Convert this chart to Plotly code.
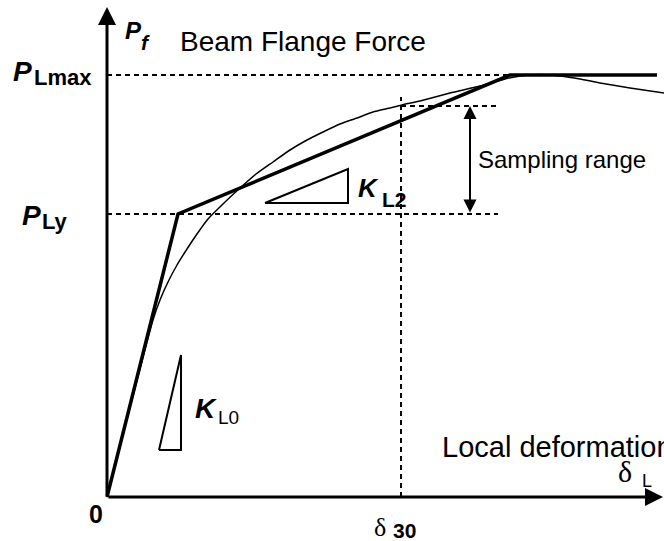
import plotly.graph_objects as go

# ---- data (deformation, force) in drawing units; origin at (0,0) ----
bilinear_x = [0, 71, 403, 550]
bilinear_y = [0, 283, 422, 422]

curve_x = [0, 46, 53, 61, 70, 80, 90, 101, 117, 133, 149, 166, 183, 200, 216, 233, 250, 266, 283, 295,
           313, 343, 373, 398, 413, 433, 453, 473, 493, 523, 557]
curve_y = [0, 177, 197, 215, 232, 248, 263, 278, 294, 309, 323, 335, 347, 357, 365, 373, 379, 385, 389, 392,
           396, 404, 411, 418, 421, 422.5, 421, 418, 414, 409, 404]

P_Lmax = 422
P_Ly = 283
delta_30 = 294
P_30 = 391

kl0_x = [52, 74, 74, 52]
kl0_y = [47, 47, 142, 47]
kl2_x = [158, 241, 241, 158]
kl2_y = [294, 328, 294, 294]

XMIN, XMAX = -107, 557
YMIN, YMAX = -44, 497

fig = go.Figure()

dash = "5px,4px"
# dashed reference lines
fig.add_trace(go.Scatter(x=[0, 401], y=[P_Lmax, P_Lmax], mode="lines",
                         line=dict(color="black", width=2, dash=dash)))
fig.add_trace(go.Scatter(x=[0, 391], y=[P_Ly, P_Ly], mode="lines",
                         line=dict(color="black", width=2, dash=dash)))
fig.add_trace(go.Scatter(x=[delta_30, 393], y=[P_30, P_30], mode="lines",
                         line=dict(color="black", width=2, dash=dash)))
fig.add_trace(go.Scatter(x=[delta_30, delta_30], y=[0, 400], mode="lines",
                         line=dict(color="black", width=2, dash=dash)))

# curve (thin)
fig.add_trace(go.Scatter(x=curve_x, y=curve_y, mode="lines",
                         line=dict(color="black", width=1.5, shape="spline", smoothing=0.5)))
# bilinear (thick)
fig.add_trace(go.Scatter(x=bilinear_x, y=bilinear_y, mode="lines",
                         line=dict(color="black", width=3.5)))
# triangles
fig.add_trace(go.Scatter(x=kl0_x, y=kl0_y, mode="lines", line=dict(color="black", width=2)))
fig.add_trace(go.Scatter(x=kl2_x, y=kl2_y, mode="lines", line=dict(color="black", width=2)))

ann = []
# axes as arrows
ann.append(dict(x=0, y=490, ax=0, ay=0, xref="x", yref="y", axref="x", ayref="y",
                showarrow=True, arrowhead=2, arrowsize=1.2, arrowwidth=3, arrowcolor="black", text=""))
ann.append(dict(x=556, y=0, ax=0, ay=0, xref="x", yref="y", axref="x", ayref="y",
                showarrow=True, arrowhead=2, arrowsize=1.2, arrowwidth=3, arrowcolor="black", text=""))
# sampling range double arrow
ann.append(dict(x=363, y=P_30, ax=363, ay=P_Ly, xref="x", yref="y", axref="x", ayref="y",
                showarrow=True, arrowhead=2, startarrowhead=2, arrowside="end+start",
                arrowsize=1.3, startarrowsize=1.3, arrowwidth=2, arrowcolor="black", text=""))

SANS = "Liberation Sans, Arial"
SERIF = "Liberation Serif, Times New Roman"

def txt(x, y, t, size, fam=SANS):
    ann.append(dict(x=x, y=y, xref="x", yref="y", text=t, showarrow=False,
                    xanchor="left", yanchor="middle", font=dict(family=fam, size=size, color="black")))

txt(-96, 426, "<b><i>P</i></b>", 28)
txt(-75, 420, "<b>Lmax</b>", 22)
txt(-87, 282, "<b><i>P</i></b>", 28)
txt(-67, 276, "<b>Ly</b>", 22)
txt(16, 467, "<b><i>P</i></b>", 24)
txt(32, 455, "<b><i>f</i></b>", 21)
txt(71, 456, "Beam Flange Force", 28)
txt(369, 338, "Sampling range", 24)
txt(249, 309, "<b><i>K</i></b>", 26)
txt(273, 298, "<b>L2</b>", 21)
txt(86, 89, "<b><i>K</i></b>", 28)
txt(109, 80, "L0", 19)
txt(-20, -17, "<b>0</b>", 25)
txt(265, -30, "δ", 26, SERIF)
txt(284, -33, "<b>30</b>", 21)
txt(333, 50, "Local deformation", 29)
txt(509, 26, "δ", 30, SERIF)
txt(533, 16, "L", 18)

fig.update_layout(
    width=664, height=541, margin=dict(l=0, r=0, t=0, b=0),
    paper_bgcolor="white", plot_bgcolor="white", showlegend=False,
    xaxis=dict(range=[XMIN, XMAX], visible=False, fixedrange=True),
    yaxis=dict(range=[YMIN, YMAX], visible=False, fixedrange=True),
    annotations=ann,
)
fig.write_html("out.html")
